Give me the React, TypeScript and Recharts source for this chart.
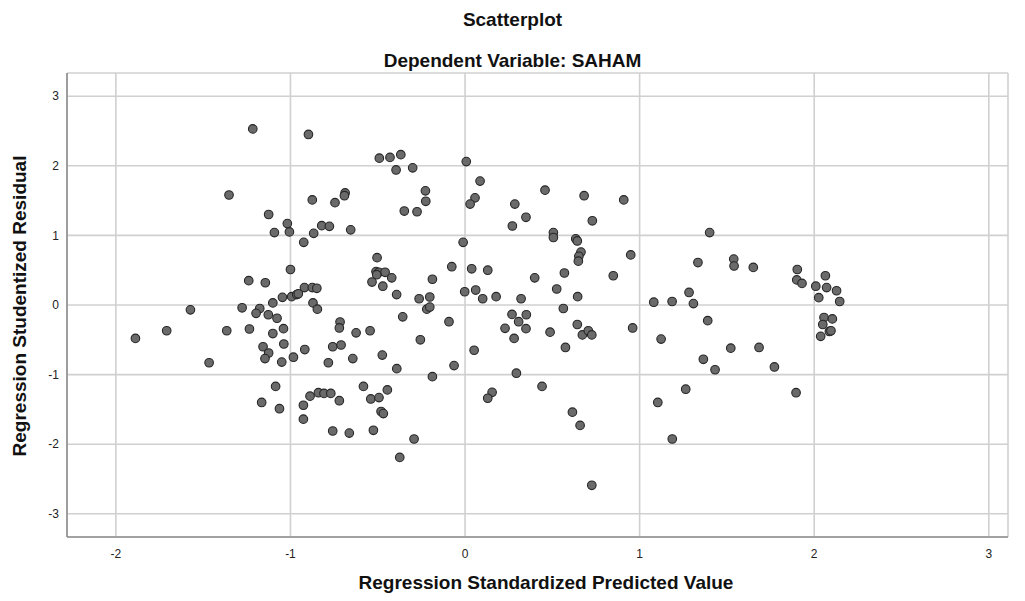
import React from "react";
import { ScatterChart, Scatter, XAxis, YAxis, CartesianGrid } from "recharts";

const predicted: number[] = [
  -1.216, -0.897, -1.352, -0.875, -1.125, -1.018, -1.092, -1.006, -0.867, -0.924,
  -0.821, -0.777, -0.655, -1.0, -1.239, -1.144, -0.92, -0.875, -0.849, -1.046,
  -0.993, -0.964, -0.955, -1.101, -0.871, -1.573, -1.277, -1.176, -1.197, -0.846,
  -1.888, -1.709, -1.466, -1.365, -1.235, -1.127, -1.077, -1.101, -1.04, -1.157,
  -1.125, -1.146, -1.038, -1.05, -0.983, -0.918, -1.085, -1.165, -1.063, -0.926,
  -0.926, -0.888, -0.84, -0.808, -0.769, -0.745, -0.687, -0.691, -0.491, -0.43,
  -0.368, -0.395, -0.3, -0.227, -0.225, -0.348, -0.275, 0.007, 0.086, 0.057,
  0.029, 0.285, 0.349, 0.271, 0.458, 0.506, 0.506, -0.011, -0.504, -0.51,
  -0.494, -0.458, -0.506, -0.533, -0.471, -0.42, -0.392, -0.263, -0.202, -0.187,
  -0.076, 0.038, 0.13, -0.002, 0.061, 0.101, 0.178, 0.321, 0.399, 0.525,
  -0.219, -0.202, -0.716, -0.72, -0.624, -0.544, -0.357, -0.092, -0.256, -0.758,
  -0.71, -0.783, -0.643, -0.474, -0.391, -0.187, -0.063, 0.052, 0.229, 0.269,
  0.307, 0.351, 0.349, 0.281, 0.487, 0.294, 0.441, 0.155, 0.13, -0.582,
  -0.54, -0.493, -0.445, -0.481, -0.468, -0.72, -0.758, -0.663, -0.525, -0.292,
  -0.374, 0.682, 0.909, 0.729, 0.634, 0.643, 0.664, 0.652, 0.649, 0.949,
  0.569, 0.849, 0.645, 0.563, 1.401, 1.334, 1.539, 1.541, 1.651, 1.903,
  1.9, 1.081, 1.186, 1.283, 1.308, 0.643, 0.672, 0.706, 0.726, 0.575,
  0.96, 1.39, 1.123, 1.522, 1.684, 1.365, 1.432, 1.772, 1.264, 1.896,
  0.615, 0.659, 1.104, 1.187, 0.726, 1.93, 2.064, 2.009, 2.071, 2.128,
  2.026, 2.146, 2.056, 2.104, 2.049, 2.087, 2.096, 2.037,
];

const residual: number[] = [
  2.53, 2.45, 1.58, 1.51, 1.3, 1.17, 1.04, 1.05, 1.03, 0.9,
  1.14, 1.13, 1.08, 0.51, 0.35, 0.32, 0.25, 0.25, 0.24, 0.11,
  0.12, 0.15, 0.16, 0.03, 0.03, -0.07, -0.04, -0.05, -0.12, -0.06,
  -0.48, -0.37, -0.83, -0.37, -0.345, -0.14, -0.19, -0.41, -0.34, -0.6,
  -0.69, -0.77, -0.56, -0.82, -0.75, -0.64, -1.17, -1.4, -1.49, -1.44,
  -1.64, -1.31, -1.26, -1.27, -1.27, 1.47, 1.61, 1.57, 2.11, 2.12,
  2.16, 1.94, 1.97, 1.64, 1.49, 1.35, 1.34, 2.06, 1.78, 1.54,
  1.45, 1.45, 1.26, 1.135, 1.65, 1.04, 0.97, 0.9, 0.68, 0.48,
  0.47, 0.47, 0.435, 0.33, 0.27, 0.39, 0.15, 0.09, 0.115, 0.37,
  0.55, 0.52, 0.5, 0.19, 0.215, 0.09, 0.12, 0.09, 0.39, 0.23,
  -0.06, -0.03, -0.245, -0.33, -0.4, -0.37, -0.17, -0.24, -0.5, -0.6,
  -0.575, -0.83, -0.77, -0.72, -0.915, -1.03, -0.87, -0.65, -0.335, -0.135,
  -0.24, -0.14, -0.34, -0.48, -0.39, -0.98, -1.17, -1.255, -1.34, -1.17,
  -1.35, -1.33, -1.22, -1.53, -1.56, -1.375, -1.81, -1.84, -1.8, -1.925,
  -2.19, 1.57, 1.51, 1.21, 0.95, 0.92, 0.76, 0.7, 0.63, 0.72,
  0.46, 0.42, 0.12, -0.05, 1.04, 0.61, 0.66, 0.56, 0.54, 0.51,
  0.36, 0.04, 0.05, 0.18, 0.02, -0.28, -0.43, -0.37, -0.43, -0.61,
  -0.33, -0.225, -0.49, -0.62, -0.61, -0.78, -0.93, -0.89, -1.21, -1.26,
  -1.54, -1.73, -1.4, -1.925, -2.59, 0.31, 0.42, 0.27, 0.25, 0.205,
  0.105, 0.05, -0.18, -0.2, -0.28, -0.38, -0.37, -0.45,
];

const xTicks = [-2, -1, 0, 1, 2, 3];
const yTicks = [-3, -2, -1, 0, 1, 2, 3];

const chartTitle = "Scatterplot";
const chartSubtitle = "Dependent Variable: SAHAM";
const xTitle = "Regression Standardized Predicted Value";
const yTitle = "Regression Studentized Residual";

const points = predicted.map((x, i) => ({ x, y: residual[i] }));

const FONT = "'Liberation Sans', Arial, sans-serif";

const Dot = (props: any) => {
  const { cx, cy } = props;
  if (cx == null || cy == null) return null;
  return <circle cx={cx} cy={cy} r={4.3} fill="#6a6a6a" stroke="#262626" strokeWidth={1.1} />;
};

export default function App() {
  return (
    <div style={{ position: "absolute", left: 0, top: 0, width: 1025, height: 601, background: "#fff", fontFamily: FONT }}>
      <ScatterChart width={1025} height={601} margin={{ top: 73, right: 17, bottom: 0, left: 0 }}>
        <CartesianGrid stroke="#d0d0d0" strokeWidth={1.6} />
        <XAxis
          type="number"
          dataKey="x"
          domain={[-2.28, 3.11]}
          ticks={xTicks}
          allowDataOverflow
          height={64}
          tickLine={false}
          tickMargin={6}
          axisLine={{ stroke: "#8f8f8f", strokeWidth: 1.6 }}
          tick={{ fill: "#222", fontSize: 12, fontFamily: FONT }}
        />
        <YAxis
          type="number"
          dataKey="y"
          domain={[-3.333, 3.333]}
          ticks={yTicks}
          allowDataOverflow
          width={67}
          tickLine={false}
          axisLine={{ stroke: "#8f8f8f", strokeWidth: 1.6 }}
          tick={{ fill: "#222", fontSize: 12, fontFamily: FONT }}
        />
        <Scatter data={points} shape={Dot} isAnimationActive={false} />
      </ScatterChart>
      <div style={{ position: "absolute", left: 0, width: 1025, top: 9, lineHeight: "22px", textAlign: "center", fontWeight: "bold", fontSize: 19, color: "#111" }}>
        {chartTitle}
      </div>
      <div style={{ position: "absolute", left: 0, width: 1025, top: 50, lineHeight: "22px", textAlign: "center", fontWeight: "bold", fontSize: 19, color: "#111" }}>
        {chartSubtitle}
      </div>
      <div style={{ position: "absolute", left: 46, width: 1000, top: 572, lineHeight: "22px", textAlign: "center", fontWeight: "bold", fontSize: 19, color: "#111" }}>
        {xTitle}
      </div>
      <div
        style={{
          position: "absolute",
          left: 20,
          top: 306,
          width: 400,
          marginLeft: -200,
          marginTop: -11,
          height: 22,
          lineHeight: "22px",
          textAlign: "center",
          fontWeight: "bold",
          fontSize: 19,
          color: "#111",
          transform: "rotate(-90deg)",
        }}
      >
        {yTitle}
      </div>
    </div>
  );
}
